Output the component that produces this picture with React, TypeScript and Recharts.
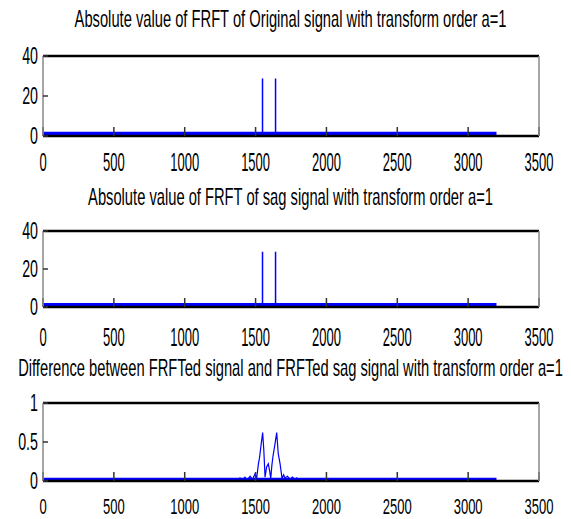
import React from "react";
import { LineChart, Line, XAxis, YAxis } from "recharts";

const xTicks = [0, 500, 1000, 1500, 2000, 2500, 3000, 3500];
const ampTicks = [0, 20, 40];
const diffTicks = [0, 0.5, 1];

const titles = [
  "Absolute value of FRFT of Original signal with transform order a=1",
  "Absolute value of FRFT of sag signal with transform order a=1",
  "Difference between FRFTed signal and FRFTed sag signal with transform order a=1",
];

// near-zero floor of the dense samples (first / last index)
const floorX = [0, 3200];
const origFloor = [1.2, 1.2];
const sagFloor = [1.2, 1.2];
const diffFloor = [0.02, 0.02];

// the two spectral lines
const peakX = [1549, 1641];
const origPeak = [28.8, 28.8];
const sagPeak = [29.1, 29.1];

// difference curve around the peaks
const diffX = [
  1376, 1390, 1405, 1425, 1440, 1461, 1478, 1496, 1508, 1520, 1528, 1538, 1550,
  1558, 1567, 1578, 1590, 1600, 1607, 1615, 1623, 1635, 1649, 1660, 1673, 1687,
  1698, 1708, 1725, 1743, 1760, 1778, 1790, 1800,
];
const diffY = [
  0.01, 0.04, 0.01, 0.05, 0.01, 0.06, 0.02, 0.09, 0.04, 0.22, 0.3, 0.45, 0.62,
  0.4, 0.05, 0.18, 0.22, 0.12, 0.03, 0.2, 0.32, 0.45, 0.62, 0.35, 0.22, 0.03,
  0.08, 0.04, 0.06, 0.02, 0.05, 0.02, 0.04, 0.01,
];

const toPoints = (xs: number[], ys: number[]) =>
  xs.map((x, i) => ({ x, y: ys[i] }));

const spikePoints = (xs: number[], hs: number[], base: number) =>
  xs.flatMap((x, i) => [
    { x, y: base },
    { x, y: hs[i] },
    { x, y: base },
  ]);

const FONT = "'Liberation Sans', Arial, sans-serif";
const BLUE = "#0000ff";
const W = 571;
const LEFT = 43;
const RIGHT = 32;

// the source figure was squeezed horizontally, so all text is too
function Squeezed({ x, y, sx, size, anchor, children }: any) {
  return (
    <text
      transform={`translate(${x},${y}) scale(${sx},1)`}
      textAnchor={anchor}
      fontSize={size}
      fontFamily={FONT}
      fill="#000"
    >
      {children}
    </text>
  );
}

interface PanelProps {
  top: number;
  plotH: number;
  height: number;
  yMax: number;
  yTicks: number[];
  floor: { x: number; y: number }[];
  trace: { x: number; y: number }[];
  traceWidth: number;
  labelGap: number;
  labelSize: number;
}

function Panel({ top, plotH, height, yMax, yTicks, floor, trace, traceWidth, labelGap, labelSize }: PanelProps) {
  const mTop = 56;
  const plotBottom = mTop + plotH;
  const tickLine = { stroke: "#333", strokeWidth: 1.5 };

  const xLabel = (p: any) => (
    <Squeezed
      x={p.x}
      y={plotBottom + labelGap + labelSize * 0.358}
      sx={13 / labelSize}
      size={labelSize}
      anchor="middle"
    >
      {p.payload.value}
    </Squeezed>
  );
  const yLabel = (p: any) => (
    <Squeezed x={LEFT - 5} y={p.y + 8} sx={0.62} size={23} anchor="end">
      {p.payload.value}
    </Squeezed>
  );

  return (
    <div style={{ position: "absolute", left: 0, top }}>
      <LineChart
        width={W}
        height={height}
        margin={{ top: mTop, right: RIGHT, bottom: height - plotBottom, left: LEFT }}
      >
        <Line
          data={floor}
          dataKey="y"
          type="linear"
          stroke={BLUE}
          strokeWidth={3.5}
          dot={false}
          isAnimationActive={false}
        />
        <Line
          data={trace}
          dataKey="y"
          type="linear"
          stroke={BLUE}
          strokeWidth={traceWidth}
          dot={false}
          isAnimationActive={false}
        />
        <XAxis
          dataKey="x"
          type="number"
          domain={[0, 3500]}
          ticks={xTicks}
          interval={0}
          allowDataOverflow
          mirror
          tickSize={9}
          tickLine={tickLine}
          axisLine={{ stroke: "#000", strokeWidth: 2.5 }}
          tick={xLabel}
        />
        <XAxis
          xAxisId="top"
          orientation="top"
          type="number"
          domain={[0, 3500]}
          ticks={xTicks}
          interval={0}
          allowDataOverflow
          mirror
          tickSize={9}
          tickLine={tickLine}
          axisLine={{ stroke: "#000", strokeWidth: 2.5 }}
          tick={false}
        />
        <YAxis
          type="number"
          domain={[0, yMax]}
          ticks={yTicks}
          interval={0}
          allowDataOverflow
          mirror
          tickSize={5}
          tickLine={tickLine}
          axisLine={{ stroke: "#888", strokeWidth: 1.5 }}
          tick={yLabel}
        />
        <YAxis
          yAxisId="right"
          orientation="right"
          type="number"
          domain={[0, yMax]}
          ticks={yTicks}
          interval={0}
          allowDataOverflow
          mirror
          tickSize={5}
          tickLine={tickLine}
          axisLine={{ stroke: "#888", strokeWidth: 1.5 }}
          tick={false}
        />
      </LineChart>
    </div>
  );
}

export default function App() {
  const titleY = [26.5, 205, 376];

  return (
    <div
      style={{
        position: "absolute",
        left: 0,
        top: 0,
        width: W,
        height: 519,
        background: "#fff",
        overflow: "hidden",
      }}
    >
      <Panel
        top={0}
        plotH={80}
        height={180}
        yMax={40}
        yTicks={ampTicks}
        floor={toPoints(floorX, origFloor)}
        trace={spikePoints(peakX, origPeak, origFloor[0])}
        traceWidth={1.5}
        labelGap={26.5}
        labelSize={25}
      />
      <Panel
        top={175}
        plotH={76}
        height={180}
        yMax={40}
        yTicks={ampTicks}
        floor={toPoints(floorX, sagFloor)}
        trace={spikePoints(peakX, sagPeak, sagFloor[0])}
        traceWidth={1.5}
        labelGap={30}
        labelSize={25}
      />
      <Panel
        top={347}
        plotH={78}
        height={172}
        yMax={1}
        yTicks={diffTicks}
        floor={toPoints(floorX, diffFloor)}
        trace={toPoints(diffX, diffY)}
        traceWidth={1.2}
        labelGap={25}
        labelSize={22}
      />
      <svg
        width={W}
        height={519}
        style={{ position: "absolute", left: 0, top: 0, pointerEvents: "none" }}
      >
        {titles.map((t, i) => (
          <Squeezed key={t} x={290.5} y={titleY[i]} sx={0.64} size={23} anchor="middle">
            {t}
          </Squeezed>
        ))}
      </svg>
    </div>
  );
}
